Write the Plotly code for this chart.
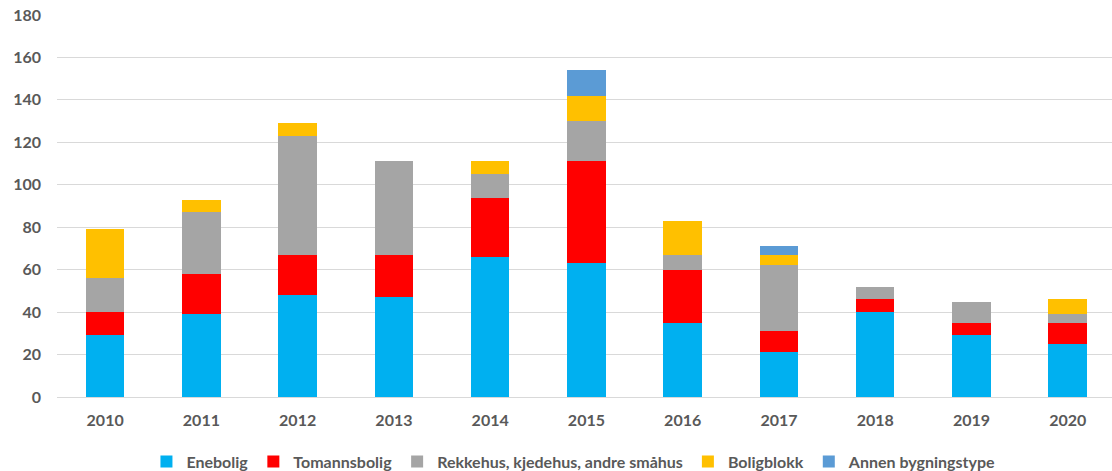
import plotly.graph_objects as go

years = ["2010", "2011", "2012", "2013", "2014", "2015", "2016", "2017", "2018", "2019", "2020"]

enebolig = [29, 39, 48, 47, 66, 63, 35, 21, 40, 29, 25]
tomannsbolig = [11, 19, 19, 20, 28, 48, 25, 10, 6, 6, 10]
rekkehus = [16, 29, 56, 44, 11, 19, 7, 31, 6, 10, 4]
boligblokk = [23, 6, 6, 0, 6, 12, 16, 5, 0, 0, 7]
annen = [0, 0, 0, 0, 0, 12, 0, 4, 0, 0, 0]

series = [
    ("Enebolig", enebolig, "#00B0F0"),
    ("Tomannsbolig", tomannsbolig, "#FF0000"),
    ("Rekkehus, kjedehus, andre småhus", rekkehus, "#A5A5A5"),
    ("Boligblokk", boligblokk, "#FFC000"),
    ("Annen bygningstype", annen, "#5B9BD5"),
]

y_ticks = list(range(0, 181, 20))

fig = go.Figure()
for name, vals, color in series:
    fig.add_trace(go.Bar(
        x=years, y=vals, name=name,
        marker=dict(color=color, line=dict(width=0)),
        width=0.4,
    ))

font_main = "Lato"
label_font = dict(size=16, family=font_main, weight="bold", color="#595959")

fig.update_layout(
    barmode="stack",
    width=1112, height=471,
    margin=dict(l=57, r=0, t=15, b=74),
    paper_bgcolor="white", plot_bgcolor="white",
    font=dict(family=font_main, color="#595959"),
    legend=dict(
        orientation="h", x=0.49, xanchor="center",
        yref="container", y=0.02, yanchor="middle",
        font=label_font,
        traceorder="normal", itemwidth=30,
    ),
    xaxis=dict(
        type="category", range=[-0.5, 10.46],
        showgrid=False, ticks="", showline=False,
        tickfont=label_font,
        ticklabelstandoff=12,
    ),
    yaxis=dict(
        range=[0, 180], tickvals=y_ticks,
        showgrid=True, gridcolor="#D9D9D9", gridwidth=1,
        zeroline=True, zerolinecolor="#D9D9D9", zerolinewidth=1,
        ticks="", showline=False,
        tickfont=label_font,
        ticklabelstandoff=15,
    ),
)

fig.write_html("out.html")
